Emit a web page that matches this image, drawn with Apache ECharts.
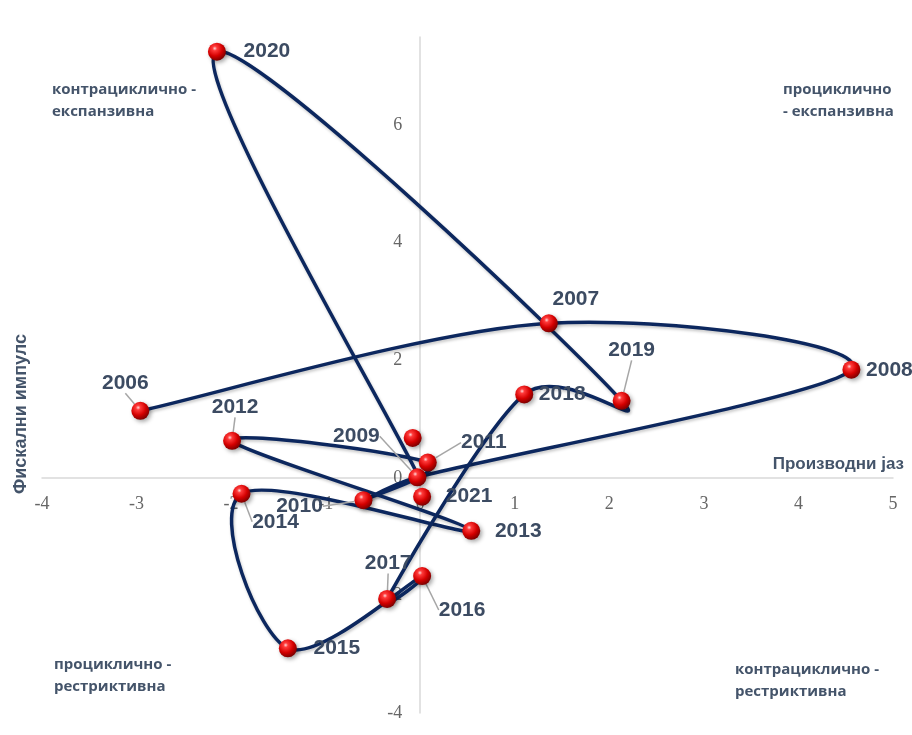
<!DOCTYPE html>
<html>
<head>
<meta charset="utf-8">
<script src="https://cdn.jsdelivr.net/npm/echarts@6/dist/echarts.min.js"></script>
<style>
html,body{margin:0;padding:0;background:#fff;}
#chart{width:912px;height:735px;}
</style>
</head>
<body>
<div id="chart"></div>
<script>
// Path of the fiscal stance (line), in year order
const years = ['2006','2007','2008','2009','2010','2011','2012','2013','2014','2015','2016','2017','2018','2019','2020','2021'];
const outputGap = [-2.96, 1.36, 4.56, -0.03, -0.60, 0.08, -1.99, 0.54, -1.89, -1.40, 0.02, -0.35, 1.10, 2.13, -2.15, -0.02];
const fiscalImpulse = [1.14, 2.63, 1.84, 0.01, -0.38, 0.26, 0.63, -0.90, -0.27, -2.90, -1.67, -2.06, 1.42, 1.31, 7.25, 0.03];

// Marker balls that sit apart from the line
const extraYears = ['2021', ''];
const extraGap = [0.02, -0.08];
const extraImpulse = [-0.32, 0.68];

// Axis ticks
const xTicks = [-4, 5, 1];     // min, max, interval
const yTicks = [-4, 7.5, 2];

const xAxisName = 'Производни јаз';
const yAxisName = 'Фискални импулс';
const quadrants = ['контрациклично -\nекспанзивна', 'процикличнo\n- експанзивна', 'процикличнo -\nрестриктивна', 'контрациклично -\nрестриктивна'];

// label placement (style only): [dx, dy, showLeader]
const labelOffsets = {
  '2006': [-15, -28, true], '2007': [27, -24, false], '2008': [38, 0, false],
  '2009': [-61, -41, true], '2010': [-64, 6, true], '2011': [56, -20, true],
  '2012': [3, -34, true], '2013': [47, 0, false], '2014': [34, 28, true],
  '2015': [49, 0, false], '2016': [40, 34, true], '2017': [1, -36, true],
  '2018': [38, 0, false], '2019': [10, -51, true], '2020': [50, 0, false],
  '2021': [47, 0, false]
};

const GRID = { left: 42, right: 19, top: 37, bottom: 22 };
const W = 912, H = 735;
const gridW = W - GRID.left - GRID.right;
const gridH = H - GRID.top - GRID.bottom;
const xAxisOffset = -((0 - yTicks[0]) / (yTicks[1] - yTicks[0])) * gridH;
const yAxisOffset = -((0 - xTicks[0]) / (xTicks[1] - xTicks[0])) * gridW;

const linePts = outputGap.map((x, i) => [x, fiscalImpulse[i]]);
const markerPts = [];
for (let i = 0; i < years.length - 1; i++) markerPts.push({ value: [outputGap[i], fiscalImpulse[i]], name: years[i] });
for (let i = 0; i < extraYears.length; i++) markerPts.push({ value: [extraGap[i], extraImpulse[i]], name: extraYears[i] });
markerPts.forEach(p => {
  const o = labelOffsets[p.name];
  p.labelLine = { show: !!(o && o[2]) };
});

const ball = {
  type: 'radial', x: 0.38, y: 0.32, r: 0.7,
  colorStops: [
    { offset: 0, color: '#ffd6d6' },
    { offset: 0.18, color: '#ff3a3a' },
    { offset: 0.6, color: '#d40000' },
    { offset: 1, color: '#7a0000' }
  ]
};

// Excel-like smoothed segment (Bezier with arms limited to half the segment)
function renderSegment(params, api) {
  const n = outputGap.length;
  const i = params.dataIndex;
  if (i >= n - 1) return null;
  const P = j => { const k = Math.max(0, Math.min(n - 1, j)); return api.coord([outputGap[k], fiscalImpulse[k]]); };
  const p0 = P(i - 1), p1 = P(i), p2 = P(i + 1), p3 = P(i + 2);
  const dist = (a, b) => Math.hypot(a[0] - b[0], a[1] - b[1]);
  const d12 = dist(p1, p2), d02 = dist(p0, p2), d13 = dist(p1, p3);
  const f1 = d02 > 0 ? Math.min(1 / 6, d12 / (2 * d02)) : 0;
  const f2 = d13 > 0 ? Math.min(1 / 6, d12 / (2 * d13)) : 0;
  return {
    type: 'bezierCurve',
    shape: {
      x1: p1[0], y1: p1[1], x2: p2[0], y2: p2[1],
      cpx1: p1[0] + (p2[0] - p0[0]) * f1, cpy1: p1[1] + (p2[1] - p0[1]) * f1,
      cpx2: p2[0] - (p3[0] - p1[0]) * f2, cpy2: p2[1] - (p3[1] - p1[1]) * f2
    },
    style: {
      fill: null, stroke: '#0c275e', lineWidth: 3.5, lineCap: 'round', lineJoin: 'round',
      shadowColor: 'rgba(0,0,0,0.22)', shadowBlur: 3, shadowOffsetX: 1, shadowOffsetY: 2
    }
  };
}

const textColor = '#44546a';
const chart = echarts.init(document.getElementById('chart'), null, { renderer: 'canvas' });
chart.setOption({
  animation: false,
  backgroundColor: '#ffffff',
  grid: { left: GRID.left, right: GRID.right, top: GRID.top, bottom: GRID.bottom, containLabel: false, outerBoundsMode: 'none' },
  xAxis: {
    type: 'value', min: xTicks[0], max: xTicks[1], interval: xTicks[2],
    offset: xAxisOffset,
    axisLine: { onZero: false, lineStyle: { color: '#d9d9d9', width: 1.5 } },
    axisTick: { show: false },
    splitLine: { show: false },
    axisLabel: { margin: 17, color: '#666666', fontFamily: 'Liberation Serif', fontSize: 18 }
  },
  yAxis: {
    type: 'value', min: yTicks[0], max: yTicks[1], interval: yTicks[2],
    offset: yAxisOffset,
    axisLine: { onZero: false, lineStyle: { color: '#d9d9d9', width: 1.5 } },
    axisTick: { show: false },
    splitLine: { show: false },
    axisLabel: { margin: 18, showMaxLabel: false, color: '#666666', fontFamily: 'Liberation Serif', fontSize: 18 }
  },
  graphic: [
    { type: 'text', left: 52, top: 79, style: { text: quadrants[0], font: 'bold 15px "Open Sans"', fill: textColor, lineHeight: 22 } },
    { type: 'text', left: 783, top: 79, style: { text: quadrants[1], font: 'bold 15px "Open Sans"', fill: textColor, lineHeight: 22 } },
    { type: 'text', left: 54, top: 654, style: { text: quadrants[2], font: 'bold 15px "Open Sans"', fill: textColor, lineHeight: 22 } },
    { type: 'text', left: 735, top: 659, style: { text: quadrants[3], font: 'bold 15px "Open Sans"', fill: textColor, lineHeight: 22 } },
    { type: 'text', right: 8, top: 456, style: { text: xAxisName, font: 'bold 17px "Liberation Sans"', fill: textColor } },
    { type: 'text', left: 12, top: 334, rotation: Math.PI / 2, style: { text: yAxisName, font: 'bold 18px "Liberation Sans"', fill: textColor } }
  ],
  series: [
    {
      type: 'custom', coordinateSystem: 'cartesian2d', data: linePts, clip: false, z: 2,
      encode: { x: 0, y: 1 },
      renderItem: renderSegment
    },
    {
      type: 'scatter', data: markerPts, symbolSize: 18, z: 3, clip: false,
      itemStyle: { color: ball, opacity: 1, shadowColor: 'rgba(0,0,0,0.35)', shadowBlur: 4, shadowOffsetX: 2, shadowOffsetY: 2 },
      label: {
        show: true, position: 'inside', formatter: p => p.name, opacity: 1,
        color: '#3c4b62', textBorderWidth: 0, textBorderColor: 'transparent',
        fontFamily: 'Liberation Sans', fontWeight: 'bold', fontSize: 21
      },
      labelLine: { show: true, lineStyle: { color: '#a6a6a6', width: 1.5 } },
      labelLayout: function (params) {
        const name = markerPts[params.dataIndex].name;
        const o = labelOffsets[name];
        if (!o) return {};
        return { dx: o[0], dy: o[1] };
      }
    }
  ]
});
</script>
</body>
</html>
